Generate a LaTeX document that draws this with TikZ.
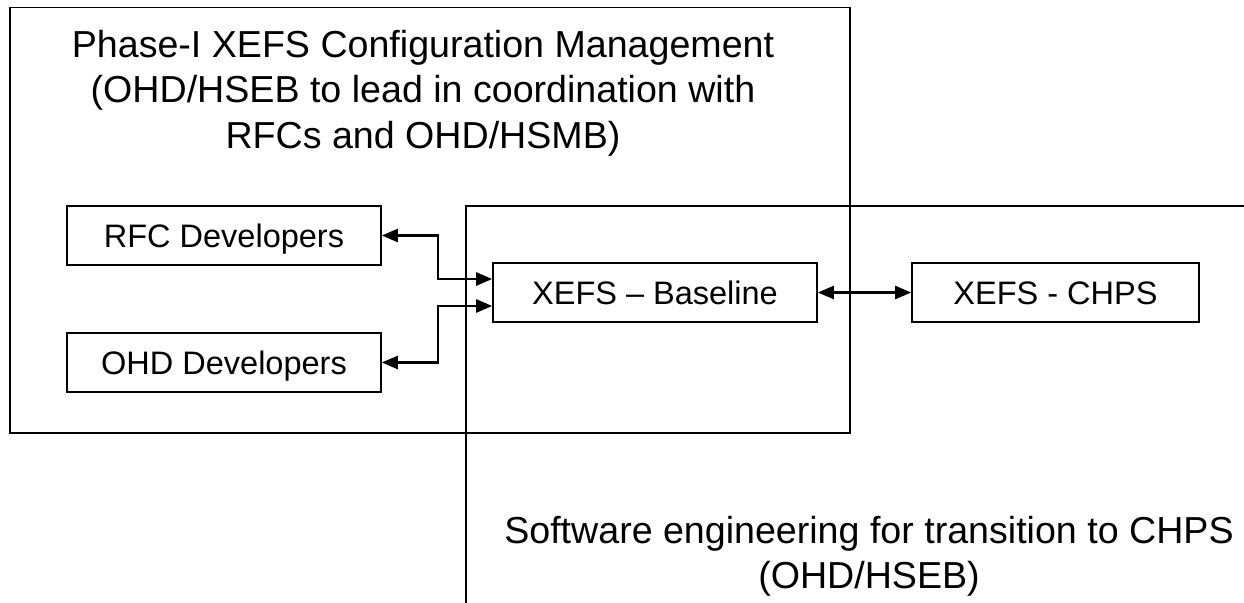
\documentclass[tikz,border=0pt]{standalone}
\usepackage{fontspec}
\setmainfont{Liberation Sans}
\usetikzlibrary{arrows.meta}

\begin{document}
\begin{tikzpicture}[x=1pt, y=-1pt, line width=1.6pt,
    unitbox/.style={draw, inner sep=0pt, minimum height=59pt,
                    text height=23pt, text depth=0pt,
                    font=\fontsize{32.5}{38}\selectfont},
    grouptitle/.style={inner sep=0pt, anchor=north, align=center,
                       font=\fontsize{37.6}{45.5}\selectfont},
    link/.style={line width=2.4pt, <->,
                 >={Triangle[length=16pt 0, width=13pt 0]}}]
             \useasboundingbox (0,0) rectangle (1244,602);

             % configuration management group
             \draw (10,7.5) rectangle (850,433);
             \node[grouptitle] (cmtitle) at (423,29)
                  {Phase-I XEFS Configuration Management\\
                   (OHD/HSEB to lead in coordination with\\
                   RFCs and OHD/HSMB)};

             % software engineering group, open at right and bottom
             \draw (1250,206) -- (466,206) -- (466,610);
             \node[grouptitle] (setitle) at (869,515)
                  {Software engineering for transition to CHPS\\
                   (OHD/HSEB)};

             \node[unitbox, minimum width=314pt] (rfc) at (224,235.5) {RFC Developers};
             \node[unitbox, minimum width=314pt] (ohd) at (224,362.5) {OHD Developers};
             \node[unitbox, minimum width=324pt] (base) at (655,292.5) {XEFS -- Baseline};
             \node[unitbox, minimum width=287pt] (chps) at (1055.5,292.5) {XEFS - CHPS};

             \draw[link] (rfc.east) -- ++(56,0) |- ([yshift=13.5pt]base.west);
             \draw[link] (ohd.east) -- ++(56,0) |- ([yshift=-13.5pt]base.west);
             \draw[link] (base.east) -- (chps.west);

             \end{tikzpicture}
\end{document}
